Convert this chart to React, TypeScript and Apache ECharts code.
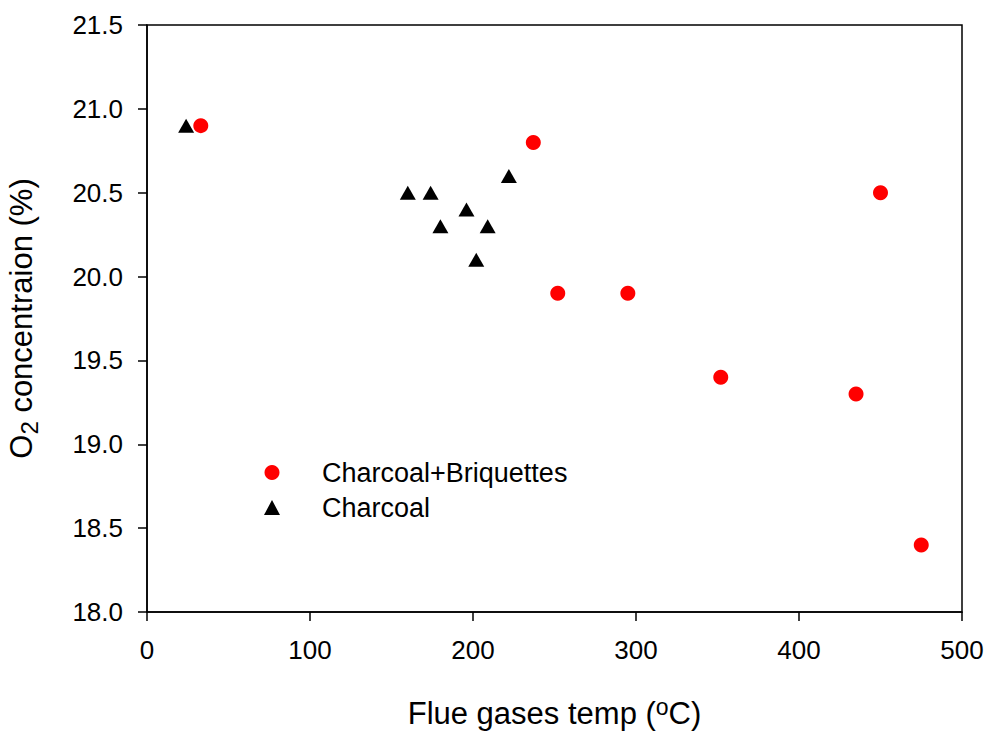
import React, { useEffect, useRef } from "react";
import * as echarts from "echarts";

const FONT = "Arial, 'Liberation Sans', sans-serif";

const xTicks = [0, 100, 200, 300, 400, 500];
const yTicks = [18.0, 18.5, 19.0, 19.5, 20.0, 20.5, 21.0, 21.5];

const briquetteTemp = [33, 237, 252, 295, 352, 435, 450, 475];
const briquetteO2 = [20.9, 20.8, 19.9, 19.9, 19.4, 19.3, 20.5, 18.4];

const charcoalTemp = [24, 160, 174, 180, 196, 202, 209, 222];
const charcoalO2 = [20.9, 20.5, 20.5, 20.3, 20.4, 20.1, 20.3, 20.6];

const seriesNames = ["Charcoal+Briquettes", "Charcoal"];

export default function App() {
  const ref = useRef<HTMLDivElement>(null);
  useEffect(() => {
    if (!ref.current) return;
    const chart = echarts.init(ref.current, undefined, { renderer: "svg" });
    chart.setOption({
      animation: false,
      backgroundColor: "#ffffff",
      textStyle: { fontFamily: FONT },
      grid: {
        left: 147,
        right: 25,
        top: 25,
        bottom: 123,
        show: true,
        borderColor: "#000",
        borderWidth: 1.5,
        backgroundColor: "transparent",
        containLabel: false,
        outerBoundsMode: "none",
      },
      legend: {
        orient: "vertical",
        left: 259,
        top: 454,
        itemWidth: 16,
        itemHeight: 15,
        itemGap: 8,
        data: [
          { name: seriesNames[0], icon: "circle" },
          { name: seriesNames[1], icon: "triangle" },
        ],
        textStyle: {
          fontSize: 27,
          color: "#000",
          fontFamily: FONT,
          lineHeight: 27,
          padding: [0, 0, 0, 37],
        },
      },
      xAxis: {
        type: "value",
        min: xTicks[0],
        max: xTicks[xTicks.length - 1],
        interval: 100,
        splitLine: { show: false },
        axisLine: { show: true, onZero: false, lineStyle: { color: "#000", width: 1.5 } },
        axisTick: { show: true, inside: false, length: 9, lineStyle: { color: "#000", width: 1.5 } },
        axisLabel: { fontSize: 26, color: "#000", margin: 25, fontFamily: FONT },
        name: "{a|Flue gases temp (}{sup|o}{a|C)}",
        nameLocation: "middle",
        nameGap: 86,
        nameTextStyle: {
          rich: {
            a: { fontSize: 31, lineHeight: 31, color: "#000", fontFamily: FONT },
            sup: { fontSize: 23, lineHeight: 18, color: "#000", fontFamily: FONT, padding: [0, 0, 14, 0] },
          },
        },
      },
      yAxis: {
        type: "value",
        min: yTicks[0],
        max: yTicks[yTicks.length - 1],
        interval: 0.5,
        splitLine: { show: false },
        axisLine: { show: true, onZero: false, lineStyle: { color: "#000", width: 1.5 } },
        axisTick: { show: true, inside: false, length: 9, lineStyle: { color: "#000", width: 1.5 } },
        axisLabel: {
          fontSize: 26,
          color: "#000",
          margin: 24,
          fontFamily: FONT,
          formatter: (v: number) => v.toFixed(1),
        },
        name: "{a|O}{sub|2}{a| concentraion (%)}",
        nameLocation: "middle",
        nameGap: 106,
        nameRotate: 90,
        nameTextStyle: {
          rich: {
            a: { fontSize: 31, color: "#000", fontFamily: FONT },
            sub: { fontSize: 24, color: "#000", fontFamily: FONT, padding: [15, 0, 0, 0] },
          },
        },
      },
      series: [
        {
          name: seriesNames[0],
          type: "scatter",
          symbol: "circle",
          symbolSize: 15,
          itemStyle: { color: "#ff0000", opacity: 1 },
          data: briquetteTemp.map((t, i) => [t, briquetteO2[i]]),
          z: 2,
        },
        {
          name: seriesNames[1],
          type: "scatter",
          symbol: "triangle",
          symbolSize: [16, 14],
          itemStyle: { color: "#000000", opacity: 1 },
          data: charcoalTemp.map((t, i) => [t, charcoalO2[i]]),
          z: 3,
        },
      ],
    });
    return () => chart.dispose();
  }, []);
  return <div ref={ref} style={{ width: 987, height: 735, position: "absolute", left: 0, top: 0 }} />;
}
